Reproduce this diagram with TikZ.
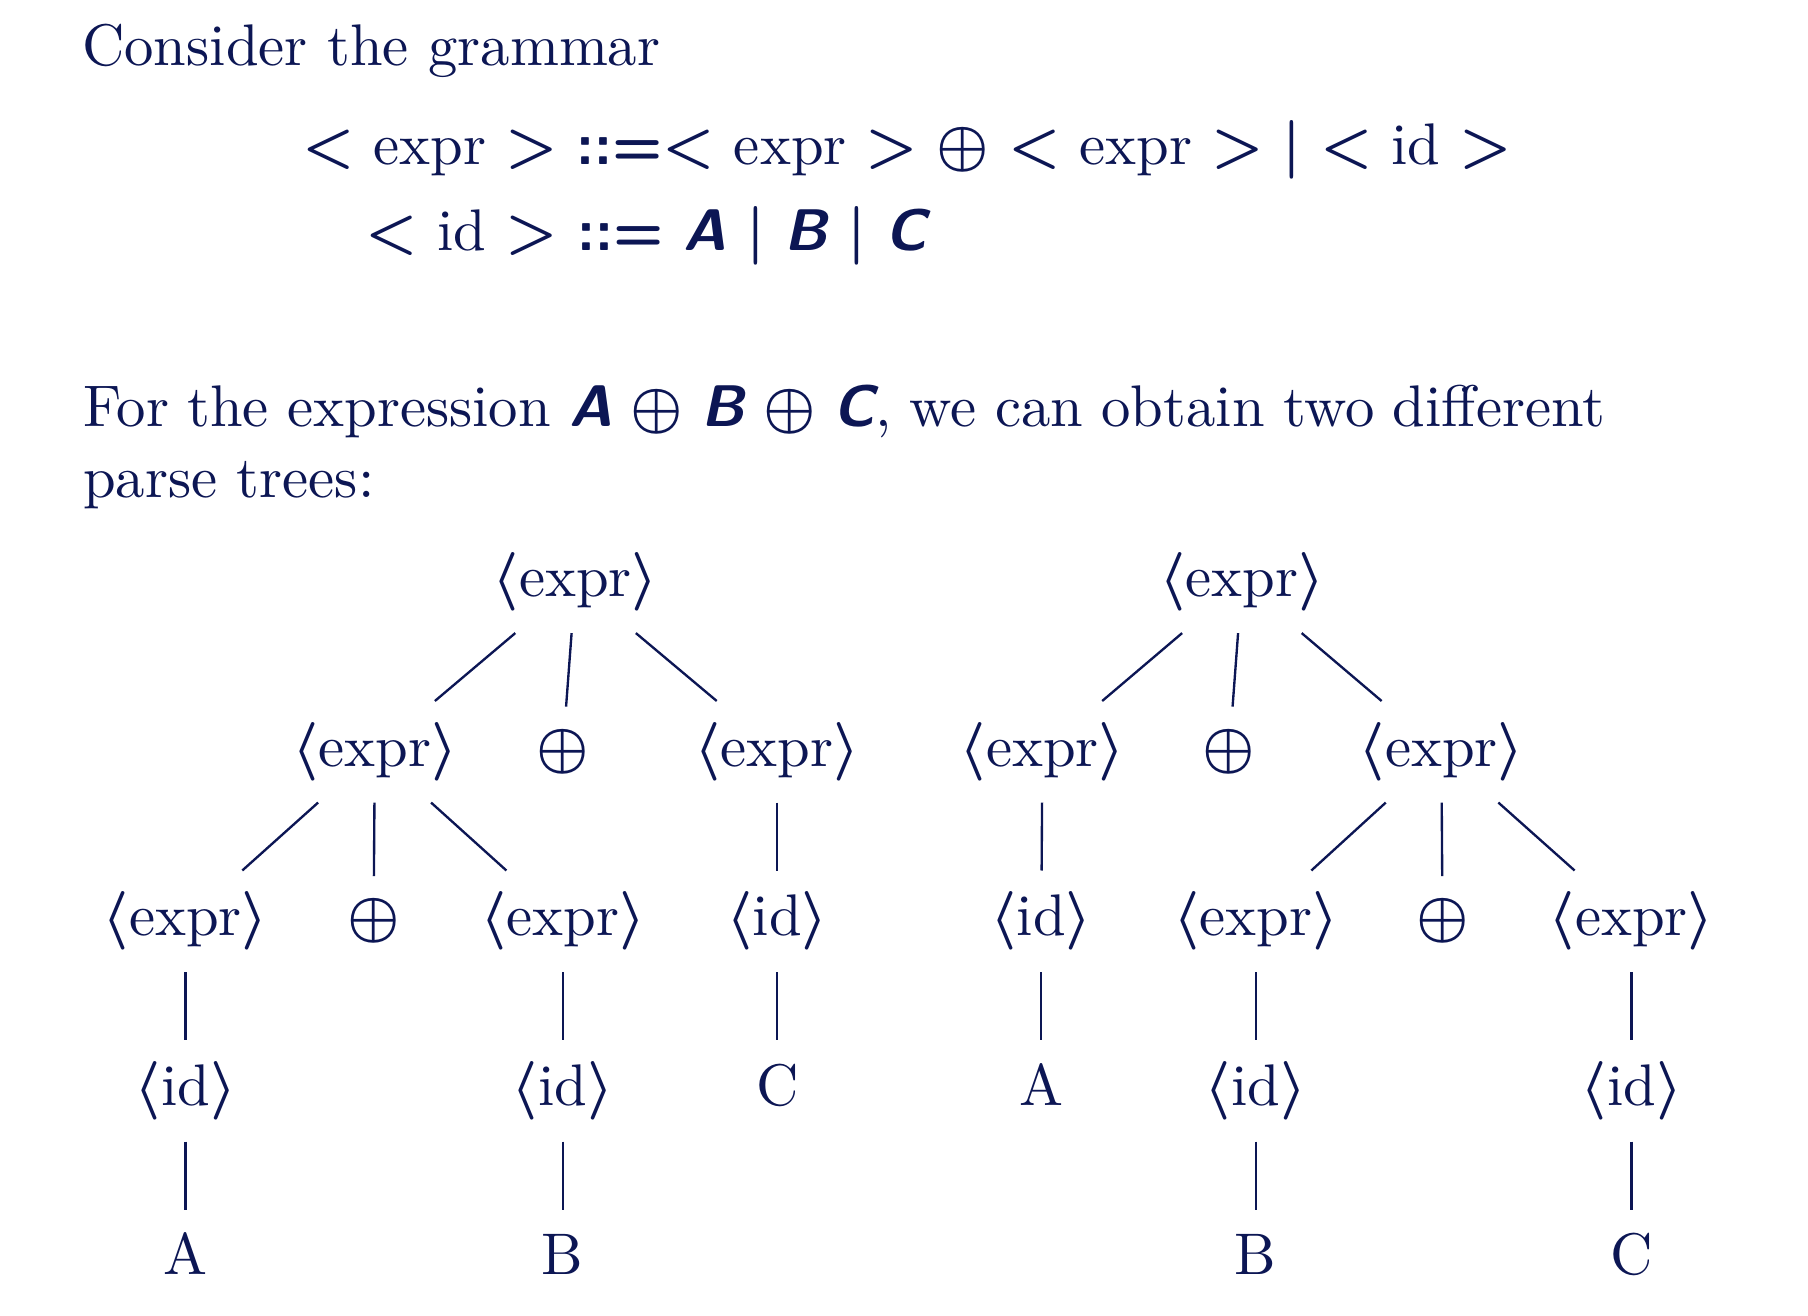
\documentclass[tikz,border=0pt]{standalone}
\usepackage{xcolor}
\definecolor{ink}{RGB}{12,22,84}
\newcommand{\bsi}[1]{{\sffamily\bfseries\slshape #1}}
\newcommand{\cceq}{{\sffamily\bfseries ::=}}
\newcommand{\nex}{$\langle$expr$\rangle$}
\newcommand{\nid}{$\langle$id$\rangle$}
\begin{document}
\begin{tikzpicture}[x=0.1703pt,y=-0.1703pt,
  every node/.style={text=ink, font=\boldmath},
  txt/.style={anchor=base west, inner sep=0pt},
  tn/.style={inner xsep=2pt, inner ysep=3.45pt, text height=7.5pt, text depth=2.5pt},
  opn/.style={tn, inner ysep=2.5pt},
  edge/.style={draw=ink, line width=0.4pt}]
\useasboundingbox (0,0) rectangle (1808,1316);
% text
\node[txt] (t1) at (81,66) {Consider the grammar};
\node[txt] (g1) at (301,165) {\hbox spread -1.6pt{$<$ expr $>$ \cceq$<$ expr $>$ $\oplus$ $<$ expr $>$ $|$ $<$ id $>$}};
\node[txt] (g2) at (364,251) {$<$ id $>$ \cceq{} \bsi{A} $|$ \bsi{B} $|$ \bsi{C}};
\node[txt] (t2) at (82,427) {\hbox to 259.2pt{For the expression \bsi{A} $\oplus$ \bsi{B} $\oplus$ \bsi{C}, we can obtain two different}};
\node[txt] (t3) at (82,498) {parse trees:};
% tree 1
\node[tn] (r1) at (575.4,582.3) {\nex};
\node[tn] (a1) at (374.8,751.8) {\nex};
\node[opn] (a2) at (562.7,751.8) {$\oplus$};
\node[tn] (a3) at (777.2,751.8) {\nex};
\node[tn] (b1) at (185.6,921.3) {\nex};
\node[opn] (b2) at (373.6,921.3) {$\oplus$};
\node[tn] (b3) at (562.7,921.3) {\nex};
\node[tn] (b4) at (777.2,921.3) {\nid};
\node[tn] (c1) at (185.6,1090.8) {\nid};
\node[tn] (c3) at (562.7,1090.8) {\nid};
\node[tn] (c4) at (777.2,1090.8) {C};
\node[tn] (d1) at (185.6,1260.3) {A};
\node[tn] (d3) at (562.7,1260.3) {B};
\foreach \p/\c in {r1/a1,r1/a2,r1/a3,a1/b1,a1/b2,a1/b3,a3/b4,b1/c1,b3/c3,b4/c4,c1/d1,c3/d3}
  \draw[edge] (\p) -- (\c);
% tree 2
\node[tn] (R) at (1241.9,582.3) {\nex};
\node[tn] (e1) at (1042.4,751.8) {\nex};
\node[opn] (e2) at (1229.2,751.8) {$\oplus$};
\node[tn] (e3) at (1441.4,751.8) {\nex};
\node[tn] (f1) at (1041.3,921.3) {\nid};
\node[tn] (f2) at (1255.7,921.3) {\nex};
\node[opn] (f3) at (1442.5,921.3) {$\oplus$};
\node[tn] (f4) at (1631.6,921.3) {\nex};
\node[tn] (g1a) at (1041.3,1090.8) {A};
\node[tn] (g2a) at (1255.7,1090.8) {\nid};
\node[tn] (g4a) at (1631.6,1090.8) {\nid};
\node[tn] (h2) at (1255.7,1260.3) {B};
\node[tn] (h4) at (1631.6,1260.3) {C};
\foreach \p/\c in {R/e1,R/e2,R/e3,e1/f1,e3/f2,e3/f3,e3/f4,f1/g1a,f2/g2a,f4/g4a,g2a/h2,g4a/h4}
  \draw[edge] (\p) -- (\c);
\end{tikzpicture}
\end{document}
